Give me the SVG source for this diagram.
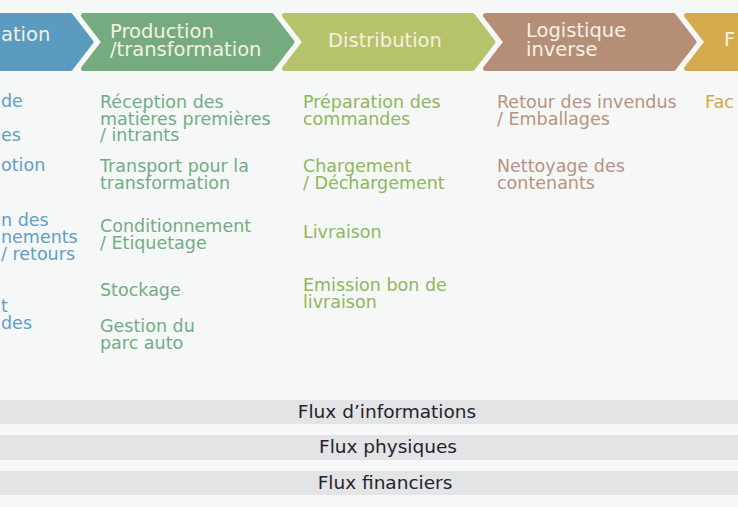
<svg xmlns="http://www.w3.org/2000/svg" width="738" height="507" viewBox="0 0 738 507">
<style>
text{font-family:"DejaVu Sans","Noto Sans",sans-serif}
.hd{font-size:19.5px;fill:#f4f1e3}
.bd{font-size:17.5px}
.fl{font-size:18.5px;fill:#23232b;text-anchor:middle}
.chev{stroke-width:5;stroke-linejoin:round}
.band{fill:#e3e4e6}
</style>
<defs>
<path id="chev" d="M3.5,15.5 L191.5,15.5 L212,42 L191.5,68.5 L3.5,68.5 L24,42 Z"/>
</defs>
<rect width="738" height="507" fill="#f6f7f7"/>

<g id="approvisionnement">
<use href="#chev" x="-121" class="chev" fill="#5b9bbf" stroke="#5b9bbf"/>
<text class="hd" x="1" y="41">ation</text>
<g class="bd" fill="#5e9fc5">
<text x="1" y="107">de</text>
<text x="1" y="141">es</text>
<text x="1" y="171">otion</text>
<text x="1" y="226">n des<tspan x="1" dy="17">nements</tspan><tspan x="1" dy="17">/ retours</tspan></text>
<text x="1" y="312">t<tspan x="1" dy="17">des</tspan></text>
</g>
</g>

<g id="production">
<use href="#chev" x="80" class="chev" fill="#76ab7f" stroke="#76ab7f"/>
<text class="hd" x="110" y="38">Production<tspan x="110" dy="18">/transformation</tspan></text>
<g class="bd" fill="#70ae82">
<text x="100" y="108">Réception des<tspan x="100" dy="16.5">matières premières</tspan><tspan x="100" dy="16.5">/ intrants</tspan></text>
<text x="100" y="172">Transport pour la<tspan x="100" dy="16.5">transformation</tspan></text>
<text x="100" y="232">Conditionnement<tspan x="100" dy="16.5">/ Etiquetage</tspan></text>
<text x="100" y="296">Stockage</text>
<text x="100" y="332">Gestion du<tspan x="100" dy="16.5">parc auto</tspan></text>
</g>
</g>

<g id="distribution">
<use href="#chev" x="281" class="chev" fill="#b6c36b" stroke="#b6c36b"/>
<text class="hd" x="385" y="47" text-anchor="middle">Distribution</text>
<g class="bd" fill="#8db85b">
<text x="303" y="108">Préparation des<tspan x="303" dy="16.5">commandes</tspan></text>
<text x="303" y="172">Chargement<tspan x="303" dy="16.5">/ Déchargement</tspan></text>
<text x="303" y="238">Livraison</text>
<text x="303" y="291">Emission bon de<tspan x="303" dy="16.5">livraison</tspan></text>
</g>
</g>

<g id="logistique-inverse">
<use href="#chev" x="482" class="chev" fill="#b58e78" stroke="#b58e78"/>
<text class="hd" x="526" y="37">Logistique<tspan x="526" dy="19">inverse</tspan></text>
<g class="bd" fill="#b8937e">
<text x="497" y="108">Retour des invendus<tspan x="497" dy="16.5">/ Emballages</tspan></text>
<text x="497" y="172">Nettoyage des<tspan x="497" dy="16.5">contenants</tspan></text>
</g>
</g>

<g id="facturation">
<use href="#chev" x="683" class="chev" fill="#d4ab4c" stroke="#d4ab4c"/>
<text class="hd" x="724" y="46">F</text>
<text class="bd" x="705" y="108" fill="#d9a34f">Fac</text>
</g>

<g id="flux">
<rect class="band" x="0" y="400" width="738" height="24"/>
<rect class="band" x="0" y="435" width="738" height="25"/>
<rect class="band" x="0" y="471" width="738" height="24"/>
<text class="fl" x="387" y="418">Flux d’informations</text>
<text class="fl" x="388" y="453">Flux physiques</text>
<text class="fl" x="385" y="489">Flux financiers</text>
</g>
</svg>
